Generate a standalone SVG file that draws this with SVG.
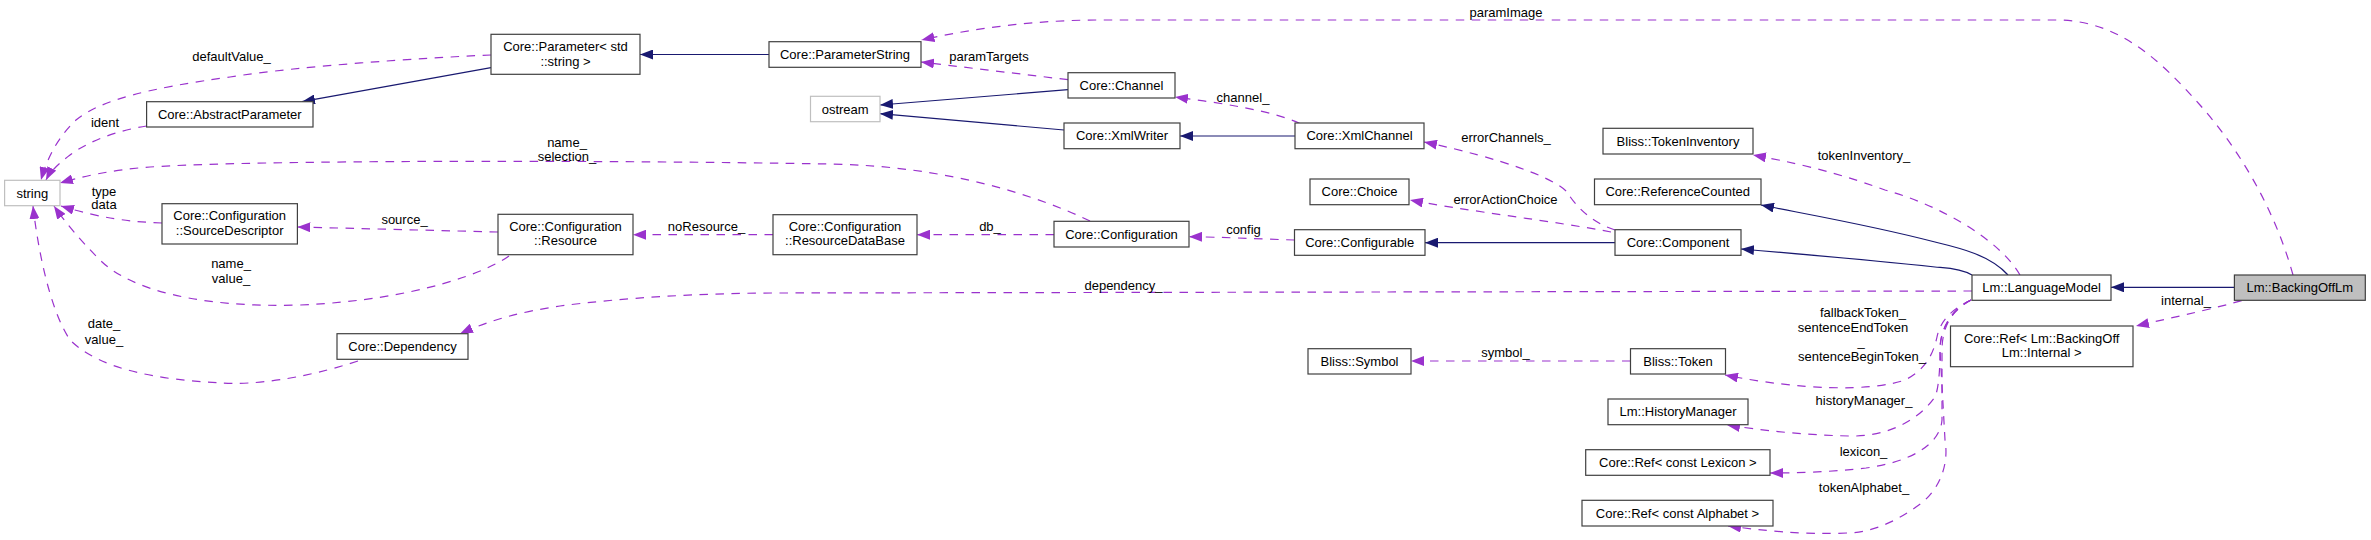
<svg xmlns="http://www.w3.org/2000/svg" width="2371" height="540" viewBox="0 0 2371 540">
<style>
text{font-family:"Liberation Sans",Arial,sans-serif;font-size:13px;fill:#000;text-anchor:middle}
.n rect{fill:#fff;stroke:#404040;stroke-width:1.2}
.g rect{fill:#fff;stroke:#bfbfbf;stroke-width:1.2}
.cur rect{fill:#bfbfbf;stroke:#404040;stroke-width:1.2}
.d{fill:none;stroke:#9a32cd;stroke-width:1.2;stroke-dasharray:8.5,7.5;marker-end:url(#ap)}
.s{fill:none;stroke:#191970;stroke-width:1.2;marker-end:url(#as)}
</style>
<defs>
<marker id="ap" markerUnits="userSpaceOnUse" markerWidth="13" markerHeight="10" refX="13" refY="5" orient="auto"><path d="M0,0L13,5L0,10z" fill="#9a32cd"/></marker>
<marker id="as" markerUnits="userSpaceOnUse" markerWidth="13" markerHeight="10" refX="13" refY="5" orient="auto"><path d="M0,0L13,5L0,10z" fill="#191970"/></marker>
</defs>
<rect width="2371" height="540" fill="#fff"/>
<g id="connectors">
<path class="s" d="M491,67.7L302,101.7"/>
<path class="s" d="M769,54.5L640,54.5"/>
<path class="d" d="M1068,79.7L921,62"/>
<path class="s" d="M1068,89.7L880,105"/>
<path class="s" d="M1064,130L880,113.7"/>
<path class="s" d="M1295,136L1180,136"/>
<path class="d" d="M1299.5,123.3C1270,110 1220,103 1175,97"/>
<path class="d" d="M1615,230C1590,222 1575,205 1567,192C1555,178 1500,158 1424,142"/>
<path class="d" d="M1611,232C1560,222 1460,210 1410,200"/>
<path class="s" d="M1615,242.7L1425,242.7"/>
<path class="d" d="M1294.5,240C1260,239 1220,237 1189,236.7"/>
<path class="d" d="M1054,234.7L917,234.7"/>
<path class="d" d="M773,234.7L633,234.7"/>
<path class="d" d="M498,232L297.4,227"/>
<path class="d" d="M162,223C130,222 100,218 61,206"/>
<path class="d" d="M146.6,126C120,130 90,140 70,155C58,164 50,172 46,180"/>
<path class="d" d="M491,55C420,58 300,66 230,77C150,88 100,100 76,120C60,135 48,155 41,180"/>
<path class="d" d="M1090,221C1040,197 950,166 830,164C600,160 250,160 150,167C110,170 80,177 60,183"/>
<path class="d" d="M509,256C490,270 420,300 300,305C200,308 130,290 100,260C80,240 65,222 54,206"/>
<path class="d" d="M358,361C300,380 250,385 222,383C160,380 100,370 70,340C50,310 38,250 33,206"/>
<path class="d" d="M1972,291L780,293C700,293 620,298 560,306C520,312 490,320 460,333.7"/>
<path class="s" d="M1972,275C1960,268 1945,268 1935,267C1870,260 1800,254 1741,249"/>
<path class="s" d="M2008,275C1990,255 1960,248 1935,242C1870,225 1800,213 1761,205"/>
<path class="d" d="M2020,275C2000,240 1940,205 1885,190C1830,170 1790,162 1753,155"/>
<path class="s" d="M2234.4,287.3L2111,287.3"/>
<path class="d" d="M2293,275C2275,210 2240,150 2200,105C2160,60 2120,22 2060,20L1100,20C1040,20 980,27 921.5,40"/>
<path class="d" d="M2241.7,300.7C2200,312 2170,318 2136,326"/>
<path class="d" d="M1630.5,361L1411,361"/>
<path class="d" d="M1971,300C1950,310 1940,322 1937,337C1933,355 1925,370 1905,380C1870,392 1800,390 1725,375"/>
<path class="d" d="M1971,300C1950,310 1940,330 1940,350C1940,375 1938,390 1935,397C1915,425 1880,437 1850,436C1800,435 1760,430 1727,425"/>
<path class="d" d="M1971,300C1950,310 1942,330 1942,350L1942,420C1940,445 1910,462 1866,468C1830,472 1800,473 1770,473"/>
<path class="d" d="M1971,300C1950,312 1940,330 1940,350L1945,440C1950,470 1935,495 1916,507C1895,522 1870,533 1847,533C1800,535 1760,530 1728,526"/>
<g id="labels">
<text x="231.5" y="61.2">defaultValue_</text>
<text x="105" y="126.5">ident</text>
<text x="567" y="147.2">name_</text>
<text x="567" y="160.5">selection_</text>
<text x="104" y="195.5">type</text>
<text x="104" y="208.5">data</text>
<text x="404.5" y="223.5">source_</text>
<text x="231" y="267.5">name_</text>
<text x="231" y="282.5">value_</text>
<text x="104" y="327.5">date_</text>
<text x="104" y="343.5">value_</text>
<text x="989" y="61.2">paramTargets</text>
<text x="706.5" y="231.2">noResource_</text>
<text x="990" y="231.2">db_</text>
<text x="1506" y="16.5">paramImage</text>
<text x="1243" y="101.5">channel_</text>
<text x="1506" y="141.5">errorChannels_</text>
<text x="1505.5" y="203.5">errorActionChoice</text>
<text x="1243.5" y="233.5">config</text>
<text x="1123.5" y="289.5">dependency_</text>
<text x="1505.5" y="357.2">symbol_</text>
<text x="1864" y="160.2">tokenInventory_</text>
<text x="2186" y="304.5">internal_</text>
<text x="1863" y="317.2">fallbackToken_</text>
<text x="1853" y="332.2">sentenceEndToken</text>
<text x="1861" y="346">_</text>
<text x="1862" y="361.2">sentenceBeginToken_</text>
<text x="1864" y="405.2">historyManager_</text>
<text x="1863.5" y="456.2">lexicon_</text>
<text x="1864" y="492.2">tokenAlphabet_</text>
</g>
</g>
<g id="string" class="g"><rect x="4.6" y="180.3" width="55.4" height="25.4"/><text x="32.3" y="197.5">string</text></g>
<g id="AbstractParameter" class="n"><rect x="146.6" y="101.7" width="166.4" height="25.3"/><text x="229.8" y="118.8">Core::AbstractParameter</text></g>
<g id="ParameterStd" class="n"><rect x="491" y="34.3" width="149" height="40"/><text x="565.5" y="51.2">Core::Parameter&lt; std</text><text x="565.5" y="65.5">::string &gt;</text></g>
<g id="SourceDescriptor" class="n"><rect x="162" y="203.7" width="135.4" height="40.3"/><text x="229.7" y="220.2">Core::Configuration</text><text x="229.7" y="234.5">::SourceDescriptor</text></g>
<g id="Resource" class="n"><rect x="498" y="214.3" width="135" height="40.4"/><text x="565.5" y="230.5">Core::Configuration</text><text x="565.5" y="244.8">::Resource</text></g>
<g id="Dependency" class="n"><rect x="337" y="333.7" width="131" height="25.6"/><text x="402.5" y="351">Core::Dependency</text></g>
<g id="ParameterString" class="n"><rect x="769" y="41.7" width="152" height="25.6"/><text x="845" y="59">Core::ParameterString</text></g>
<g id="Channel" class="n"><rect x="1068" y="72.7" width="107" height="25.3"/><text x="1121.5" y="89.8">Core::Channel</text></g>
<g id="ostream" class="g"><rect x="810.5" y="96.3" width="69.5" height="25.4"/><text x="845.2" y="113.5">ostream</text></g>
<g id="XmlWriter" class="n"><rect x="1064" y="123" width="116" height="25.7"/><text x="1122" y="140.3">Core::XmlWriter</text></g>
<g id="ResourceDataBase" class="n"><rect x="773" y="214.7" width="144" height="40"/><text x="845" y="230.7">Core::Configuration</text><text x="845" y="245">::ResourceDataBase</text></g>
<g id="Configuration" class="n"><rect x="1054" y="221.3" width="135" height="25.7"/><text x="1121.5" y="238.6">Core::Configuration</text></g>
<g id="XmlChannel" class="n"><rect x="1295" y="123" width="129" height="25.7"/><text x="1359.5" y="140.3">Core::XmlChannel</text></g>
<g id="Choice" class="n"><rect x="1310" y="179" width="99" height="25.7"/><text x="1359.5" y="196.3">Core::Choice</text></g>
<g id="Configurable" class="n"><rect x="1294.5" y="229.7" width="130.5" height="25.6"/><text x="1359.7" y="247">Core::Configurable</text></g>
<g id="Component" class="n"><rect x="1615" y="229.7" width="126" height="25.6"/><text x="1678" y="247">Core::Component</text></g>
<g id="TokenInventory" class="n"><rect x="1603" y="128.3" width="150" height="25.7"/><text x="1678" y="145.6">Bliss::TokenInventory</text></g>
<g id="ReferenceCounted" class="n"><rect x="1594.5" y="179" width="166.5" height="25.7"/><text x="1677.7" y="196.3">Core::ReferenceCounted</text></g>
<g id="Symbol" class="n"><rect x="1308" y="348.7" width="103" height="25.3"/><text x="1359.5" y="365.8">Bliss::Symbol</text></g>
<g id="Token" class="n"><rect x="1630.5" y="348.7" width="95" height="25.3"/><text x="1678" y="365.8">Bliss::Token</text></g>
<g id="HistoryManager" class="n"><rect x="1608" y="399" width="140" height="25.7"/><text x="1678" y="416.3">Lm::HistoryManager</text></g>
<g id="RefLexicon" class="n"><rect x="1585.7" y="449.7" width="184.3" height="25.6"/><text x="1677.8" y="467">Core::Ref&lt; const Lexicon &gt;</text></g>
<g id="RefAlphabet" class="n"><rect x="1582" y="500.3" width="191" height="25.7"/><text x="1677.5" y="517.6">Core::Ref&lt; const Alphabet &gt;</text></g>
<g id="LanguageModel" class="n"><rect x="1972" y="275" width="139" height="25.3"/><text x="2041.5" y="292.2">Lm::LanguageModel</text></g>
<g id="BackingOffLm" class="cur"><rect x="2234.4" y="275" width="130.9" height="25.3"/><text x="2299.8" y="292.2">Lm::BackingOffLm</text></g>
<g id="RefInternal" class="n"><rect x="1950.5" y="326" width="182.5" height="40.7"/><text x="2041.7" y="342.8">Core::Ref&lt; Lm::BackingOff</text><text x="2041.7" y="356.8">Lm::Internal &gt;</text></g>
</svg>
